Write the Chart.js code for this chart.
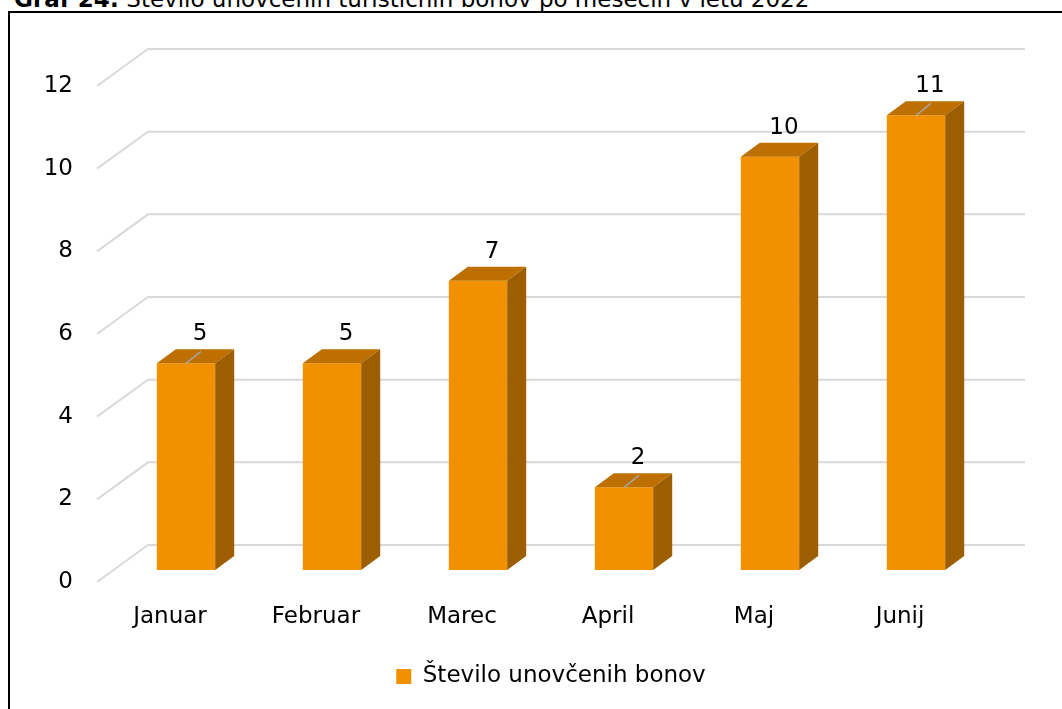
<!DOCTYPE html>
<html><head><meta charset="utf-8">
<script src="https://cdn.jsdelivr.net/npm/chart.js@4.4.0/dist/chart.umd.min.js"></script>
<style>
html,body{margin:0;padding:0;background:#fff;width:1062px;height:709px;overflow:hidden;position:relative;}
#frame{position:absolute;left:8px;top:11px;width:2000px;height:2000px;border-top:2px solid #000;border-left:2px solid #000;}
#title{position:absolute;left:14px;top:-12px;font-family:'DejaVu Sans';font-size:23px;line-height:23px;white-space:nowrap;color:#000;}
canvas{position:absolute;left:0;top:0;}
</style></head><body>
<div id="title"><b>Graf 24:</b> Število unovčenih turističnih bonov po mesecih v letu 2022</div>
<div id="frame"></div>
<canvas id="c" width="1062" height="709"></canvas>
<script>
const categories = ['Januar', 'Februar', 'Marec', 'April', 'Maj', 'Junij'];
const seriesName = 'Število unovčenih bonov';
const values = [5, 5, 7, 2, 10, 11];
const yTickValues = [0, 2, 4, 6, 8, 10, 12];

const FONT = 'DejaVu Sans';
const frontColor = '#F29100';
const topColor = '#BD7000';
const sideColor = '#9C5E00';
const leaderBars = [0, 3, 5];

const fake3d = {
  id: 'fake3d',
  beforeDatasetsDraw(chart) {
    const {ctx, chartArea, scales: {y}} = chart;
    ctx.save();
    ctx.strokeStyle = '#d9d9d9';
    ctx.lineWidth = 2;
    y.ticks.forEach(t => {
      const py = y.getPixelForValue(t.value);
      ctx.beginPath();
      ctx.moveTo(chartArea.left - 16, py + 12);
      ctx.lineTo(chartArea.left + 35, py - 25);
      ctx.lineTo(chartArea.right + 36, py - 25);
      ctx.stroke();
    });
    ctx.restore();
  },
  afterDatasetsDraw(chart) {
    const {ctx} = chart;
    const meta = chart.getDatasetMeta(0);
    const dx = 19, dy = -14;
    ctx.save();
    meta.data.forEach((bar, i) => {
      const {x, y, base, width} = bar.getProps(['x', 'y', 'base', 'width'], true);
      const l = x - width / 2, r = x + width / 2;
      ctx.fillStyle = topColor;
      ctx.beginPath();
      ctx.moveTo(l, y); ctx.lineTo(r, y); ctx.lineTo(r + dx, y + dy); ctx.lineTo(l + dx, y + dy);
      ctx.closePath(); ctx.fill();
      ctx.fillStyle = sideColor;
      ctx.beginPath();
      ctx.moveTo(r, y); ctx.lineTo(r + dx, y + dy); ctx.lineTo(r + dx, base + dy); ctx.lineTo(r, base);
      ctx.closePath(); ctx.fill();
      if (leaderBars.includes(i)) {
        ctx.strokeStyle = '#A6A6A6';
        ctx.lineWidth = 1.5;
        ctx.beginPath();
        ctx.moveTo(x, y); ctx.lineTo(x + 15, y - 12);
        ctx.stroke();
      }
      ctx.fillStyle = '#000';
      ctx.font = '23px "' + FONT + '"';
      ctx.textAlign = 'center';
      ctx.textBaseline = 'middle';
      ctx.fillText(String(chart.data.datasets[0].data[i]), x + dx - 5, y + dy - 15);
    });
    ctx.restore();
  }
};

Chart.defaults.font.family = FONT;
Chart.defaults.font.size = 23;
Chart.defaults.color = '#000';

new Chart(document.getElementById('c'), {
  type: 'bar',
  data: {
    labels: categories,
    datasets: [{
      label: seriesName,
      data: values,
      backgroundColor: frontColor,
      borderWidth: 0,
      barPercentage: 0.4,
      categoryPercentage: 1.0
    }]
  },
  options: {
    responsive: false,
    animation: false,
    devicePixelRatio: 1,
    layout: {padding: {left: 0, right: 73, top: 74, bottom: 11}},
    scales: {
      x: {
        grid: {display: false, drawTicks: false},
        border: {display: false},
        ticks: {padding: 33, labelOffset: -16, maxRotation: 0},
        afterFit(scale) { scale.height = 85; }
      },
      y: {
        min: 0, max: 12,
        afterBuildTicks(scale) { scale.ticks = yTickValues.map(v => ({value: v})); },
        grid: {display: false, drawTicks: false},
        border: {display: false},
        ticks: {padding: 40, labelOffset: 12},
        afterFit(scale) { scale.width = 113; }
      }
    },
    plugins: {
      legend: {
        position: 'bottom',
        fullSize: false,
        labels: {boxWidth: 15, boxHeight: 15, color: '#000', font: {size: 23}}
      },
      tooltip: {enabled: false}
    }
  },
  plugins: [fake3d]
});
</script>
</body></html>
